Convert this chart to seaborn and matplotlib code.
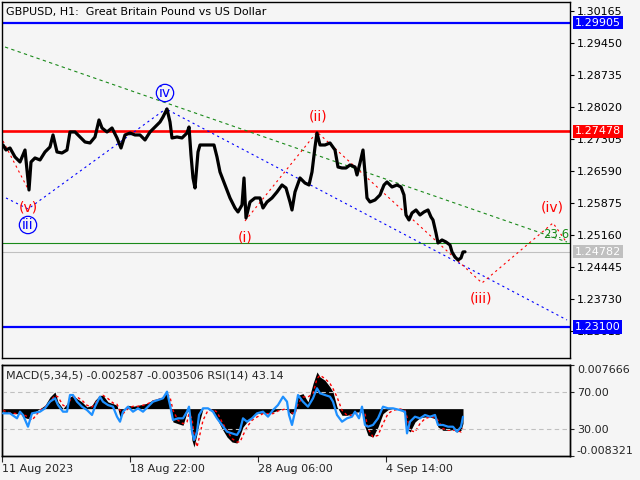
import matplotlib
matplotlib.use("Agg")
import matplotlib.pyplot as plt
import pandas as pd
import seaborn as sns

# --- price window: H1 closes (bar number, price) ---
price_bar = [3, 6, 10, 15, 20, 25, 29, 31, 35, 40, 45, 50, 53, 57, 62, 67, 70, 75, 80, 85,
             90, 95, 99, 102, 107, 112, 117, 121, 125, 130, 135, 140, 145, 150, 155, 160, 163,
             167, 170, 172, 177, 182, 187, 189, 191, 193, 195, 198, 200, 205, 210, 214, 217,
             220, 225, 230, 235, 238, 242, 244, 246, 250, 255, 260, 263, 267, 272, 277, 282,
             286, 290, 292, 295, 300, 305, 309, 312, 315, 317, 320, 325, 330, 335, 338, 342,
             346, 350, 355, 357, 360, 363, 365, 367, 370, 375, 380, 384, 387, 392, 397, 401,
             404, 406, 409, 412, 416, 420, 424, 428, 431, 433, 436, 438, 442, 446, 450, 452,
             455, 458, 461, 463, 465]
price_close = [1.27170, 1.27058, 1.27103, 1.26902, 1.26790, 1.27058, 1.26164, 1.26790,
               1.26880, 1.26835, 1.27014, 1.27125, 1.27394, 1.27014, 1.26991, 1.27058,
               1.27461, 1.27461, 1.27349, 1.27237, 1.27215, 1.27349, 1.27729, 1.27550,
               1.27461, 1.27550, 1.27327, 1.27103, 1.27394, 1.27438, 1.27394, 1.27394,
               1.27282, 1.27461, 1.27572, 1.27684, 1.27796, 1.27975, 1.27684, 1.27327,
               1.27349, 1.27327, 1.27438, 1.27572, 1.26947, 1.26433, 1.26209, 1.27014,
               1.27170, 1.27170, 1.27170, 1.27170, 1.26902, 1.26567, 1.26276, 1.25986,
               1.25762, 1.25673, 1.25829, 1.26433, 1.25539, 1.25896, 1.25986, 1.25986,
               1.25762, 1.25896, 1.25986, 1.26120, 1.26276, 1.26209, 1.25896, 1.25717,
               1.26120, 1.26433, 1.26320, 1.26276, 1.26567, 1.27125, 1.27438, 1.27170,
               1.27170, 1.27215, 1.27058, 1.26678, 1.26656, 1.26656, 1.26723, 1.26678,
               1.26500, 1.26768, 1.27058, 1.26544, 1.25986, 1.25896, 1.25941, 1.26053,
               1.26276, 1.26343, 1.26231, 1.26276, 1.26231, 1.26053, 1.25606, 1.25494,
               1.25650, 1.25717, 1.25606, 1.25673, 1.25717, 1.25561, 1.25494, 1.25203,
               1.24980, 1.25047, 1.25002, 1.24935, 1.24779, 1.24667, 1.24600, 1.24645,
               1.24779, 1.24782]

price_ticks = [1.30165, 1.29450, 1.28735, 1.28020, 1.27305, 1.26590, 1.25875,
               1.25160, 1.24445, 1.23730, 1.23015]
time_ticks = [2, 130, 258, 386]
time_labels = ["11 Aug 2023", "18 Aug 22:00", "28 Aug 06:00", "4 Sep 14:00"]

# horizontal levels
level_top = 1.29905
level_resist = 1.27478
level_fib = 1.24973
level_bid = 1.24782
level_support = 1.23100

# wave / channel lines (bar, price)
green_bar = [5, 567]
green_price = [1.29360, 1.25002]
blue_up_bar = [6, 28, 167]
blue_up_price = [1.25986, 1.25740, 1.27997]
blue_dn_bar = [168, 567]
blue_dn_price = [1.27952, 1.23259]
red_a_bar = [3, 28]
red_a_price = [1.27259, 1.26187]
red_b_bar = [245, 317, 482, 553, 567]
red_b_price = [1.25472, 1.27461, 1.24086, 1.25427, 1.24980]

# wave labels: text, bar, price, colour, circled
wave_labels = [("iv", 165, 1.28332, "#0000ff", True),
               ("(v)", 28, 1.25784, "#ff0000", False),
               ("iii", 28, 1.25382, "#0000ff", True),
               ("(i)", 245, 1.25092, "#ff0000", False),
               ("(ii)", 318, 1.27796, "#ff0000", False),
               ("(iii)", 481, 1.23728, "#ff0000", False),
               ("(iv)", 552, 1.25762, "#ff0000", False)]

# --- indicator window: MACD(5,34,5) + RSI(14) ---
ind_bar = [3, 10, 17, 20, 23, 28, 32, 40, 45, 50, 55, 58, 63, 67, 70, 73, 77, 82, 87, 92,
           95, 100, 103, 108, 113, 117, 120, 123, 128, 133, 138, 143, 148, 153, 158, 163,
           167, 170, 173, 178, 183, 187, 189, 192, 194, 197, 199, 203, 208, 213, 217, 222,
           227, 232, 237, 240, 243, 247, 252, 257, 263, 268, 273, 278, 283, 287, 289, 292,
           295, 298, 303, 308, 313, 317, 320, 325, 330, 333, 337, 342, 347, 352, 355, 359,
           362, 365, 368, 373, 378, 383, 388, 393, 400, 405, 407, 410, 415, 420, 425, 430,
           435, 438, 443, 448, 453, 457, 461, 463]
macd_hist = [-0.00059, -0.00088, -0.00088, -0.00076, -0.00147, -0.00176, -0.00088, 0.0,
             0.00059, 0.00205, 0.00293, 0.00117, 0.0, 0.00088, 0.00205, 0.00234, 0.00176,
             0.00117, 0.00029, 0.00059, 0.00147, 0.00234, 0.00234, 0.00117, 0.00088, 0.00059,
             -0.00147, -0.00029, 0.00059, 0.00041, 0.00059, 0.00076, 0.00100, 0.00158,
             0.00176, 0.00205, 0.00322, 0.00029, -0.00234, -0.00264, -0.00293, -0.00059,
             -0.00029, -0.00557, -0.00674, -0.00440, -0.00264, 0.0, 0.0, -0.00029, -0.00176,
             -0.00352, -0.00498, -0.00586, -0.00604, -0.00469, -0.00322, -0.00234, -0.00147,
             -0.00088, -0.00076, -0.00088, -0.00059, -0.00029, 0.0, -0.00018, -0.00059,
             -0.00100, 0.0, 0.00234, 0.00264, 0.00117, 0.00440, 0.00645, 0.00557, 0.00498,
             0.00381, 0.00293, 0.00029, -0.00117, -0.00117, -0.00088, -0.00059, -0.00059,
             -0.00029, -0.00322, -0.00469, -0.00498, -0.00322, -0.00088, -0.00018, 0.0, 0.0,
             -0.00088, -0.00352, -0.00410, -0.00234, -0.00158, -0.00147, -0.00147, -0.00176,
             -0.00322, -0.00381, -0.00381, -0.00369, -0.00410, -0.00381, -0.00258]
macd_signal = [-0.00029, -0.00076, -0.00088, -0.00088, -0.00100, -0.00147, -0.00205, -0.00029,
               0.00029, 0.00117, 0.00234, 0.00205, 0.00059, 0.00029, 0.00147, 0.00205,
               0.00205, 0.00147, 0.00059, 0.00029, 0.00088, 0.00205, 0.00234, 0.00176,
               0.00100, 0.00076, -0.00029, -0.00088, 0.0, 0.00041, 0.00041, 0.00059, 0.00088,
               0.00135, 0.00158, 0.00193, 0.00252, 0.00205, -0.00029, -0.00205, -0.00264,
               -0.00234, -0.00088, -0.00176, -0.00440, -0.00674, -0.00527, -0.00205, -0.00029,
               -0.00018, -0.00059, -0.00234, -0.00381, -0.00527, -0.00586, -0.00586, -0.00469,
               -0.00322, -0.00205, -0.00147, -0.00088, -0.00088, -0.00088, -0.00041, -0.00018,
               0.0, -0.00018, -0.00076, -0.00088, 0.00088, 0.00205, 0.00205, 0.00264, 0.00527,
               0.00586, 0.00527, 0.00440, 0.00352, 0.00205, -0.00029, -0.00117, -0.00117,
               -0.00088, -0.00076, -0.00059, -0.00088, -0.00352, -0.00498, -0.00469, -0.00264,
               -0.00088, -0.00029, -0.00006, -0.00029, -0.00147, -0.00381, -0.00410, -0.00264,
               -0.00176, -0.00147, -0.00147, -0.00205, -0.00352, -0.00381, -0.00381, -0.00381,
               -0.00410, -0.00352]
rsi = [46.9, 46.9, 41.4, 48.7, 45.1, 32.2, 46.9, 48.7, 52.4, 59.7, 63.4, 56.0, 48.7, 48.7,
       67.0, 67.0, 59.7, 54.2, 50.5, 45.1, 54.2, 65.2, 59.7, 56.0, 54.2, 43.2, 37.7, 48.7,
       54.2, 48.7, 52.4, 48.7, 54.2, 59.7, 61.5, 63.4, 70.7, 56.0, 39.6, 41.4, 41.4, 48.7,
       54.2, 26.7, 17.6, 26.7, 45.1, 52.4, 52.4, 48.7, 41.4, 34.1, 26.7, 24.9, 23.1, 28.6,
       41.4, 37.7, 41.4, 46.9, 48.7, 43.2, 50.5, 56.0, 65.2, 59.7, 45.1, 34.1, 48.7, 67.0,
       59.7, 54.2, 63.4, 74.4, 68.9, 67.0, 65.2, 59.7, 45.1, 37.7, 41.4, 43.2, 48.7, 41.4,
       54.2, 34.1, 32.2, 34.1, 41.4, 54.2, 52.4, 52.4, 50.5, 48.7, 24.9, 37.7, 43.2, 41.4,
       45.1, 43.2, 45.1, 34.1, 34.1, 32.2, 32.2, 26.7, 32.2, 43.14]

BG = "#f5f5f5"
sns.set_theme(style="white", rc={"axes.facecolor": BG, "figure.facecolor": BG,
                                 "axes.edgecolor": "black", "axes.linewidth": 1.0})
plt.rcParams["font.family"] = ["DejaVu Sans"]

fig = plt.figure(figsize=(6.4, 4.8), dpi=100)
ax = fig.add_axes([2 / 640, 122 / 480, 568 / 640, 356 / 480])
ax_m = fig.add_axes([2 / 640, 24 / 480, 568 / 640, 91 / 480])

# ---------- price window ----------
ax.axhline(level_top, color="#0000ff", lw=1.6, zorder=1)
ax.axhline(level_resist, color="#ff0000", lw=1.9, zorder=1)
ax.axhline(level_fib, color="#1a8a1a", lw=0.8, zorder=1)
ax.axhline(level_bid, color="#c0c0c0", lw=0.8, zorder=1)
ax.axhline(level_support, color="#0000ff", lw=1.6, zorder=1)

dot = (0, (2, 3))
ax.plot(green_bar, green_price, color="#1a8a1a", lw=0.8, ls=(0, (3, 3)), zorder=2)
ax.plot(blue_up_bar, blue_up_price, color="#0000ff", lw=0.8, ls=dot, zorder=2)
ax.plot(blue_dn_bar, blue_dn_price, color="#0000ff", lw=0.8, ls=dot, zorder=2)
ax.plot(red_a_bar, red_a_price, color="#ff0000", lw=0.8, ls=dot, zorder=2)
ax.plot(red_b_bar, red_b_price, color="#ff0000", lw=0.8, ls=dot, zorder=2)

df_price = pd.DataFrame({"bar": price_bar, "close": price_close})
sns.lineplot(data=df_price, x="bar", y="close", color="black", lw=2.3,
             estimator=None, sort=False, ax=ax, zorder=3)

for txt, b, p, col, circled in wave_labels:
    kw = {}
    if circled:
        kw["bbox"] = dict(boxstyle="circle,pad=0.12", fc="none", ec="#0000ff", lw=0.9)
    ax.text(b, p, txt, color=col, fontsize=10, ha="center", va="center", zorder=4, **kw)
ax.text(556, 1.25159, "23.6", color="#1a8a1a", fontsize=8.5, ha="center", va="center")

ax.set_xlim(2, 570)
ax.set_ylim(1.22409, 1.30366)
ax.set_xticks([])
ax.set_xlabel("")
ax.set_ylabel("")
ax.yaxis.tick_right()
ax.set_yticks(price_ticks)
ax.set_yticklabels([f"{v:.5f}" for v in price_ticks])
ax.tick_params(axis="y", direction="out", length=3, width=0.8, pad=2, labelsize=8,
               colors="black", right=True, left=False)

ytr = ax.get_yaxis_transform()
for lvl, fc in [(level_top, "#0000ff"), (level_resist, "#ff0000"),
                (level_bid, "#c0c0c0"), (level_support, "#0000ff")]:
    ax.text(1.0 + 5 / 568, lvl, f"{lvl:.5f}", transform=ytr, color="white", fontsize=8,
            ha="left", va="center", zorder=6,
            bbox=dict(boxstyle="square,pad=0.15", fc=fc, ec="none"))

fig.text(6 / 640, 1 - 12 / 480, "GBPUSD, H1:  Great Britain Pound vs US Dollar",
         fontsize=8, ha="left", va="center", color="black")

# ---------- indicator window ----------
ax_m.fill_between(ind_bar, 0, macd_hist, color="black", lw=0, zorder=1)
df_ind = pd.DataFrame({"bar": ind_bar, "signal": macd_signal, "rsi": rsi})
sns.lineplot(data=df_ind, x="bar", y="signal", color="#ff0000", lw=1.0,
             estimator=None, sort=False, ax=ax_m, zorder=2)
ax_m.lines[-1].set_linestyle((0, (2, 2)))
ax_m.set_xlim(2, 570)
ax_m.set_ylim(-0.008321, 0.007666)
ax_m.set_xticks(time_ticks)
ax_m.set_xticklabels(time_labels, ha="left")
ax_m.tick_params(axis="x", direction="out", length=4, width=0.8, pad=2, labelsize=8,
                 bottom=True)
ax_m.set_xlabel("")
ax_m.set_ylabel("")

ax_r = ax_m.twinx()
ax_r.axhline(70, color="#c0c0c0", lw=0.8, ls=(0, (4, 3)), zorder=0)
ax_r.axhline(30, color="#c0c0c0", lw=0.8, ls=(0, (4, 3)), zorder=0)
sns.lineplot(data=df_ind, x="bar", y="rsi", color="#1e90ff", lw=1.6,
             estimator=None, sort=False, ax=ax_r, zorder=3)
ax_r.set_ylim(0, 100)
ax_r.set_yticks([70, 30])
ax_r.set_yticklabels(["70.00", "30.00"])
ax_r.tick_params(axis="y", direction="out", length=3, width=0.8, pad=2, labelsize=8)
ax_r.set_ylabel("")
ax_r.set_xlabel("")
ax_r.tick_params(axis="x", bottom=False, labelbottom=False)
ax_r.text(4 / 568, 1 - 11 / 91, "MACD(5,34,5) -0.002587 -0.003506 RSI(14) 43.14",
          transform=ax_r.transAxes, fontsize=8, ha="left", va="center")

# MACD scale labels also sit on the right edge (twinx moved them left)
ax_m.yaxis.tick_right()
ax_m.set_yticks([0.007666, -0.008321])
ax_m.set_yticklabels(["0.007666", "-0.008321"])
ax_m.tick_params(axis="y", direction="out", length=3, width=0.8, pad=2, labelsize=8,
                 right=True, left=False, labelright=True, labelleft=False)
lbls = ax_m.get_yticklabels()
lbls[0].set_verticalalignment("top")
lbls[1].set_verticalalignment("bottom")

for a in (ax, ax_m, ax_r):
    for s in a.spines.values():
        s.set_color("black")
        s.set_linewidth(1.0)

fig.savefig("out.png", dpi=100, facecolor=BG)
